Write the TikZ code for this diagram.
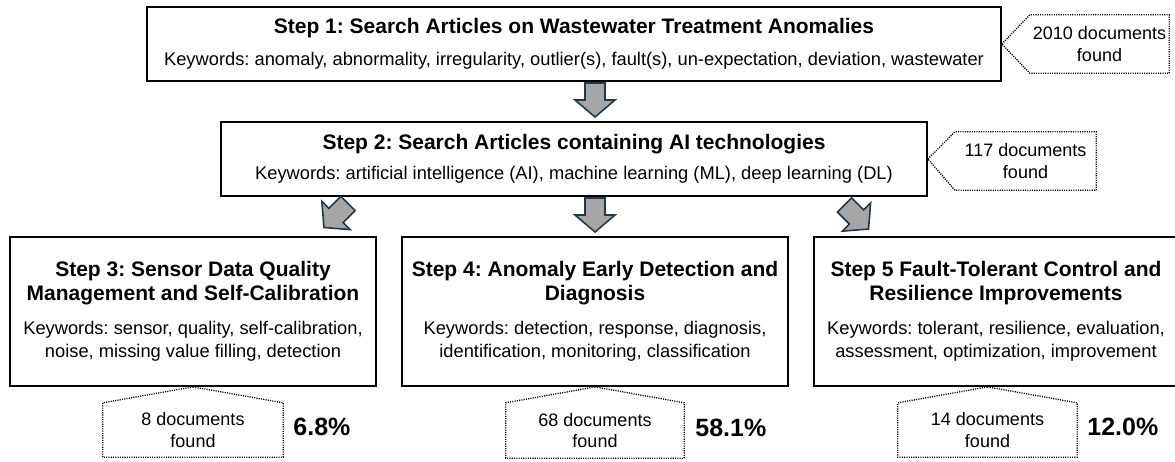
\documentclass[tikz,border=0pt]{standalone}
\usepackage{fontspec}
\setmainfont{Liberation Sans}
\usetikzlibrary{calc}
\definecolor{arrowedge}{HTML}{1F3A4C}
\definecolor{arrowfill}{HTML}{A6A6A6}
\newcommand\ttl[1]{{\fontsize{21}{25}\selectfont\bfseries #1}}
\frenchspacing
\begin{document}
\begin{tikzpicture}[x=1pt,y=-1pt,
  stepbox/.style={draw=black, line width=1.8pt, align=center, inner sep=0pt,
    font=\frenchspacing\fontsize{18.3}{22.5}\selectfont},
  foundbox/.style={align=center, inner sep=0pt, font=\fontsize{18}{21.5}\selectfont},
  dotline/.style={line width=1.3pt, dash pattern=on 1.1pt off 1.2pt, line join=miter},
  pct/.style={font=\fontsize{25}{30}\selectfont\bfseries, inner sep=0pt, anchor=west},
  blockarrow/.pic={\draw[line width=1.6pt, draw=arrowedge, fill=arrowfill, line join=miter]
    (-10,-17) -- (10,-17) -- (10,0) -- (20,0) -- (0,17) -- (-20,0) -- (-10,0) -- cycle;},
]
\clip (0,0) rectangle (1175,462);

% step boxes
\node[stepbox, minimum width=854pt, minimum height=74pt] (s1) at (574,44)
  {\ttl{Step 1: Search Articles on Wastewater Treatment Anomalies}\\[9pt]
   Keywords: anomaly, abnormality, irregularity, outlier(s), fault(s), un-expectation, deviation, wastewater};
\node[stepbox, minimum width=706pt, minimum height=74pt] (s2) at (574,159)
  {\ttl{Step 2: Search Articles containing AI technologies}\\[8pt]
   Keywords: artificial intelligence (AI), machine learning (ML), deep learning (DL)};
\node[stepbox, minimum width=366pt, minimum height=149pt] (s3) at (193,311.5)
  {\ttl{Step 3: Sensor Data Quality}\\[1pt]
   \ttl{Management and Self-Calibration}\\[12pt]
   Keywords: sensor, quality, self-calibration,\\
   noise, missing value filling, detection};
\node[stepbox, minimum width=386pt, minimum height=149pt] (s4) at (595,311.5)
  {\ttl{Step 4: Anomaly Early Detection and}\\[1pt]
   \ttl{Diagnosis}\\[12pt]
   Keywords: detection, response, diagnosis,\\
   identification, monitoring, classification};
\node[stepbox, minimum width=364pt, minimum height=149pt] (s5) at (996,311.5)
  {\ttl{Step 5 Fault-Tolerant Control and}\\[1pt]
   \ttl{Resilience Improvements}\\[12pt]
   Keywords: tolerant, resilience, evaluation,\\
   assessment, optimization, improvement};

% block arrows
\pic (a1) at (595,100) {blockarrow};
\pic (a4) at (595,215) {blockarrow};
\pic[rotate=-45] (a3) at (336,215.5) {blockarrow};
\pic[rotate=45] (a5) at (856.5,217) {blockarrow};

% callouts
\node[foundbox, minimum width=139pt, minimum height=58pt] (c1) at (1099.5,44) {2010 documents\\found};
\draw[dotline] (s1.east) -- (c1.north west) -- (c1.north east) -- (c1.south east) -- (c1.south west) -- cycle;
\node[foundbox, minimum width=141pt, minimum height=58pt] (c2) at (1025.5,161) {117 documents\\found};
\draw[dotline] (s2.east) -- (c2.north west) -- (c2.north east) -- (c2.south east) -- (c2.south west) -- cycle;

\node[foundbox, minimum width=180pt, minimum height=54pt] (c3) at (193,430) {8 documents\\found};
\draw[dotline] (s3.south) -- (c3.north east) -- (c3.south east) -- (c3.south west) -- (c3.north west) -- cycle;
\node[foundbox, minimum width=178pt, minimum height=55pt] (c4) at (595,430.5) {68 documents\\found};
\draw[dotline] (s4.south) -- (c4.north east) -- (c4.south east) -- (c4.south west) -- (c4.north west) -- cycle;
\node[foundbox, minimum width=179pt, minimum height=54pt] (c5) at (987.5,430) {14 documents\\found};
\draw[dotline] (c5.north |- s5.south) -- (c5.north east) -- (c5.south east) -- (c5.south west) -- (c5.north west) -- cycle;

% percentages
\node[pct] (p3) at ($(c3.east)+(10,-3)$) {6.8\%};
\node[pct] (p4) at ($(c4.east)+(11,-3)$) {58.1\%};
\node[pct] (p5) at ($(c5.east)+(10,-3)$) {12.0\%};
\end{tikzpicture}
\end{document}
